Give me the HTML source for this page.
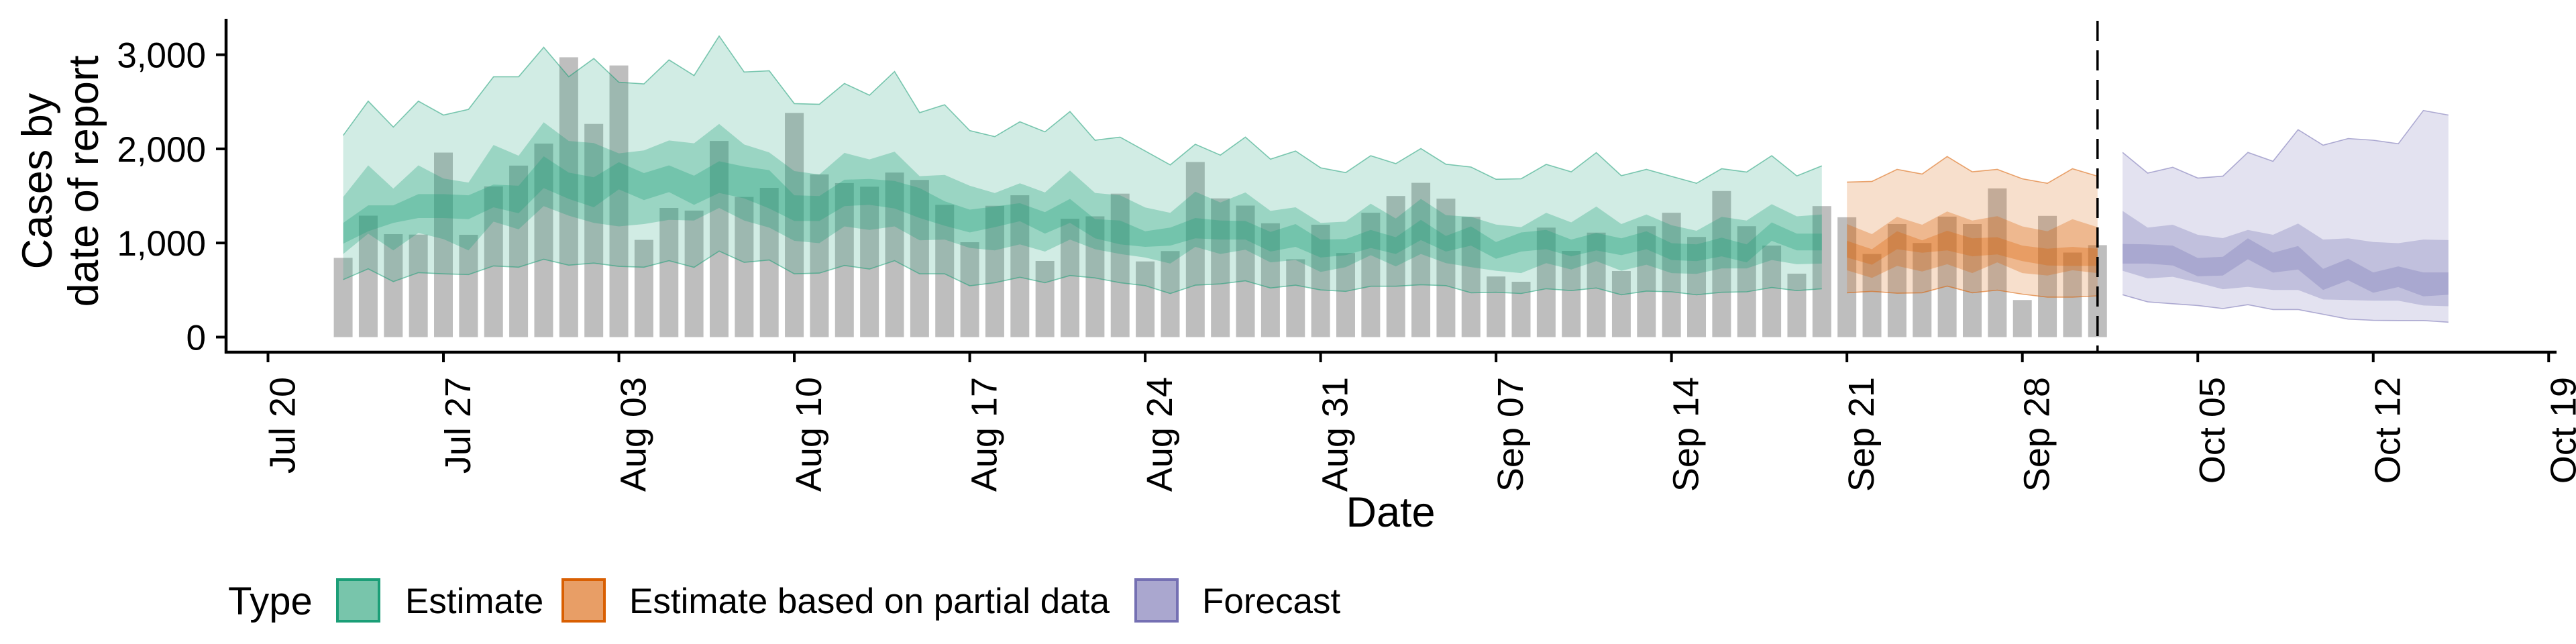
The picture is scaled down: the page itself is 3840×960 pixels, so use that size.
<!DOCTYPE html>
<html><head><meta charset="utf-8">
<style>
html,body{margin:0;padding:0;background:#fff;}
svg{display:block;font-family:"Liberation Sans",Arial,sans-serif;}
</style></head>
<body>
<svg id="chart" width="3840" height="960" viewBox="0 0 3840 960" xmlns="http://www.w3.org/2000/svg">
<g id="bars"></g>
<g id="bands"></g>
<g id="axes"></g>
<g id="legend"></g>
</svg>
<script>
// ---- data ----
const barStart = "2020-07-23";
const barValues = [842,1290,1094,1089,1960,1087,1601,1822,2056,2973,2265,2886,1033,1372,1344,2084,1489,1586,2382,1728,1636,1598,1748,1670,1405,1008,1395,1507,809,1257,
1283,1524,804,914,1860,1474,1397,1209,827,1194,893,1321,1499,1639,1471,1278,644,588,1163,916,1110,702,1178,1321,1064,1552,1178,972,674,1392,1273,883,1201,1000,
1280,1201,1580,394,1288,898,977];

const estStart = "2020-07-23";
const estUpper90 = [2143,2507,2232,2507,2359,2420,2766,2766,3079,2766,2960,2708,2690,2945,2779,3199,2817,2830,2481,2474,2695,2570,2822,2385,2469,2194,2130,2288,2181,2397,
2092,2125,1977,1830,2049,1934,2125,1891,1977,1799,1748,1927,1843,2003,1837,1807,1677,1682,1835,1756,1960,1715,1782,1708,1634,1789,1754,1927,1713,1820];
const estUpper50 = [1489,1825,1578,1825,1685,1642,2041,1927,2283,2084,2061,1952,1983,2089,2059,2265,2046,1962,1764,1728,1957,1888,1970,1710,1723,1608,1530,1634,1537,1769,
1532,1507,1377,1321,1545,1430,1537,1341,1379,1214,1227,1418,1260,1468,1295,1278,1196,1168,1321,1219,1387,1201,1303,1189,1130,1278,1239,1412,1283,1303];
const estUpper20 = [1214,1400,1400,1519,1519,1507,1621,1608,1921,1748,1698,1858,1743,1825,1715,1868,1812,1774,1507,1499,1672,1680,1659,1583,1443,1354,1387,1423,1328,1468,
1252,1239,1125,1163,1265,1239,1234,1117,1201,1036,1041,1138,1061,1245,1074,1176,1010,1112,1138,1036,1107,1049,1125,998,985,1056,985,1219,1099,1099];
const estLower20 = [993,1125,1214,1265,1265,1252,1379,1316,1583,1468,1379,1570,1456,1540,1405,1532,1474,1367,1234,1234,1392,1405,1367,1265,1183,1112,1168,1232,1099,1214,
1049,985,959,972,1049,1036,1036,909,959,845,870,947,883,1031,909,972,832,909,934,858,921,870,934,819,807,858,794,1023,921,921];
const estLower50 = [883,1099,921,1107,1041,921,1227,1145,1392,1290,1214,1176,1201,1245,1239,1372,1239,1163,1023,998,1176,1138,1176,1028,1036,947,921,985,909,1036,
934,883,845,781,959,883,929,794,819,692,743,870,751,883,786,743,705,680,786,718,807,705,769,680,672,730,730,819,774,781];
const estLower90 = [611,725,590,685,672,664,756,743,827,764,786,751,743,812,741,914,794,819,672,680,761,723,812,672,672,545,578,636,578,654,
629,578,547,463,552,565,598,522,552,501,486,540,540,557,547,471,476,463,514,494,522,450,489,481,450,476,481,527,494,514];

const partStart = "2020-09-21";
const partUpper90 = [1647,1654,1782,1733,1919,1756,1782,1682,1634,1789,1710];
const partUpper50 = [1201,1094,1278,1194,1334,1239,1285,1176,1125,1252,1168];
const partUpper20 = [1023,934,1125,1028,1130,1049,1061,972,939,959,939];
const partLower20 = [845,769,934,896,921,858,878,807,761,756,756];
const partLower50 = [710,629,756,697,774,680,794,680,654,710,680];
const partLower90 = [471,486,466,471,542,471,499,456,425,425,438];

const fcStart = "2020-10-02";
const fcUpper90 = [1962,1743,1804,1690,1710,1962,1868,2204,2039,2110,2092,2054,2408,2359];
const fcUpper50 = [1341,1163,1194,1087,1051,1138,1087,1206,1036,1049,1010,998,1036,1031];
const fcUpper20 = [990,985,972,840,853,1049,896,967,725,832,687,751,687,687];
const fcLower20 = [781,781,761,646,654,827,685,718,501,603,471,532,433,450];
const fcLower50 = [705,624,641,578,509,534,501,501,400,394,387,387,336,328];
const fcLower90 = [450,374,354,336,303,344,293,293,242,191,178,176,176,158];

const yTicks = [0,1000,2000,3000];
const yTickLabels = ["0","1,000","2,000","3,000"];
const xTickDates = ["2020-07-20","2020-07-27","2020-08-03","2020-08-10","2020-08-17","2020-08-24","2020-08-31","2020-09-07","2020-09-14","2020-09-21","2020-09-28","2020-10-05","2020-10-12","2020-10-19"];
const xTickLabels = ["Jul 20","Jul 27","Aug 03","Aug 10","Aug 17","Aug 24","Aug 31","Sep 07","Sep 14","Sep 21","Sep 28","Oct 05","Oct 12","Oct 19"];
const forecastCutDate = "2020-10-01";

// ---- scales ----
const NS = "http://www.w3.org/2000/svg";
const DAY = 86400000;
const origin = Date.UTC(2020,6,20);
function dayIdx(s){const p=s.split("-");return Math.round((Date.UTC(+p[0],+p[1]-1,+p[2])-origin)/DAY);}
function xScale(d){return 399.5 + d*37.36;}
function yScale(v){return 502.5 - v*0.1403;}
function mk(tag, attrs, parent){const e=document.createElementNS(NS,tag);for(const k in attrs)e.setAttribute(k,attrs[k]);parent.appendChild(e);return e;}

// bars
const gb=document.getElementById("bars");
const b0=dayIdx(barStart);
barValues.forEach((v,i)=>{
  const cx=xScale(b0+i);
  const r=mk("rect",{x:cx-14,y:yScale(v),width:28,height:yScale(0)-yScale(v),fill:"#bebebe"},gb);
  
  
});

// bands
const gband=document.getElementById("bands");
function band(start, up, lo, color, op, name){
  const s=dayIdx(start);
  let pts=up.map((v,i)=>xScale(s+i).toFixed(1)+","+yScale(v).toFixed(1));
  let pts2=lo.map((v,i)=>xScale(s+i).toFixed(1)+","+yScale(v).toFixed(1)).reverse();
  const p=mk("polygon",{points:pts.concat(pts2).join(" "),fill:color,"fill-opacity":op},gband);
  
  
}
function outline(start, arr, color, name){
  const s=dayIdx(start);
  const p=mk("polyline",{points:arr.map((v,i)=>xScale(s+i).toFixed(1)+","+yScale(v).toFixed(1)).join(" "),fill:"none",stroke:color,"stroke-opacity":0.55,"stroke-width":1.6},gband);
  
  
}
const G="#1b9e77",O="#d95f02",P="#7570b3";
band(estStart,estUpper90,estLower90,G,0.2,"estimate-band-90");
band(estStart,estUpper50,estLower50,G,0.3,"estimate-band-50");
band(estStart,estUpper20,estLower20,G,0.3,"estimate-band-20");
outline(estStart,estUpper90,G,"estimate-upper-line");
outline(estStart,estLower90,G,"estimate-lower-line");
band(partStart,partUpper90,partLower90,O,0.2,"partial-band-90");
band(partStart,partUpper50,partLower50,O,0.3,"partial-band-50");
band(partStart,partUpper20,partLower20,O,0.3,"partial-band-20");
outline(partStart,partUpper90,O,"partial-upper-line");
outline(partStart,partLower90,O,"partial-lower-line");
band(fcStart,fcUpper90,fcLower90,P,0.2,"forecast-band-90");
band(fcStart,fcUpper50,fcLower50,P,0.3,"forecast-band-50");
band(fcStart,fcUpper20,fcLower20,P,0.3,"forecast-band-20");
outline(fcStart,fcUpper90,P,"forecast-upper-line");
outline(fcStart,fcLower90,P,"forecast-lower-line");

// axes
const ga=document.getElementById("axes");
const cutX=xScale(dayIdx(forecastCutDate));
const dl=mk("line",{x1:cutX,y1:31,x2:cutX,y2:525,stroke:"#000","stroke-width":3.5,"stroke-dasharray":"30 14"},ga);


const ya=mk("line",{x1:337,y1:28,x2:337,y2:527,stroke:"#000","stroke-width":4.5},ga);


const xa=mk("line",{x1:335,y1:525,x2:3811,y2:525,stroke:"#000","stroke-width":4.5},ga);


yTicks.forEach((v,i)=>{
  const y=yScale(v);
  const t=mk("line",{x1:322,y1:y,x2:337,y2:y,stroke:"#000","stroke-width":4},ga);
  
  
  const l=mk("text",{x:307,y:y+19,"text-anchor":"end","font-size":53,fill:"#000"},ga);
  l.textContent=yTickLabels[i];
  
  
});
xTickDates.forEach((d,i)=>{
  const x=xScale(dayIdx(d));
  const t=mk("line",{x1:x,y1:525,x2:x,y2:540,stroke:"#000","stroke-width":4},ga);
  
  
  const l=mk("text",{x:0,y:0,"text-anchor":"end","font-size":54,fill:"#000",transform:`translate(${x+40},562) rotate(-90)`},ga);
  l.textContent=xTickLabels[i];
  
  
});
</script>
<svg style="position:absolute;left:0;top:0" width="3840" height="960">
<text transform="translate(77,270) rotate(-90)" text-anchor="middle" font-size="63" font-family="Liberation Sans, sans-serif">Cases by</text>
<text transform="translate(146,270) rotate(-90)" text-anchor="middle" font-size="63" font-family="Liberation Sans, sans-serif">date of report</text>
<text x="2073" y="785" text-anchor="middle" font-size="63" font-family="Liberation Sans, sans-serif">Date</text>
<text x="340" y="916" font-size="58" font-family="Liberation Sans, sans-serif">Type</text>
<g>
<rect x="503" y="864" width="62" height="62" fill="#78c5ab" stroke="#1b9e77" stroke-width="4"/>
<text x="604" y="914" font-size="53" font-family="Liberation Sans, sans-serif">Estimate</text>
</g>
<g>
<rect x="839" y="864" width="62" height="62" fill="#e89e66" stroke="#d95f02" stroke-width="4"/>
<text x="938" y="914" font-size="53" font-family="Liberation Sans, sans-serif">Estimate based on partial data</text>
</g>
<g>
<rect x="1693" y="864" width="62" height="62" fill="#aaa7cf" stroke="#7570b3" stroke-width="4"/>
<text x="1792" y="914" font-size="53" font-family="Liberation Sans, sans-serif">Forecast</text>
</g>
</svg>
</body></html>
